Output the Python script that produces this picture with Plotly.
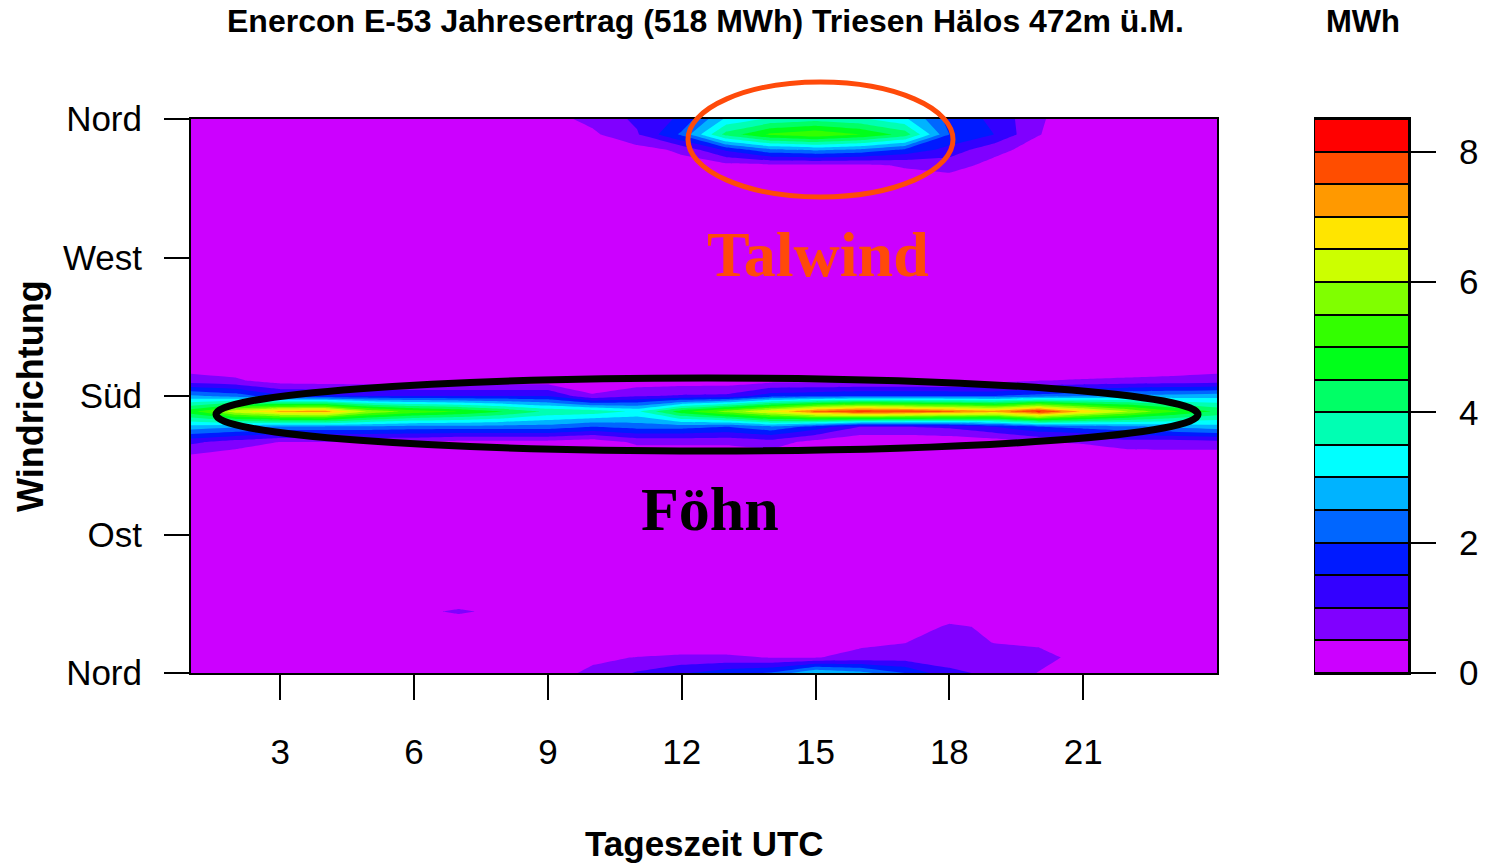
import plotly.graph_objects as go

# Hour of day (UTC) and wind direction grid (degrees, 0 = 360 = north)
hours = list(range(1, 25))
directions = list(range(0, 361, 10))

# Mean energy yield per hour / direction bin in MWh, one row per direction
energy_mwh = [
    [0.2, 0.2, 0.15, 0.15, 0.15, 0.15, 0.2, 0.2, 0.3, 0.6, 1.05, 1.45, 1.8, 2.05, 3.05, 2.7, 2.0, 1.1, 0.9, 0.48, 0.3, 0.2, 0.2, 0.2],      # 0
    [0.1, 0.1, 0.1, 0.1, 0.1, 0.1, 0.15, 0.2, 0.3, 0.4, 0.52, 0.6, 0.6, 0.48, 0.48, 0.65, 0.75, 0.8, 0.8, 0.7, 0.3, 0.2, 0.15, 0.1],       # 10
    [0.1, 0.1, 0.1, 0.1, 0.1, 0.1, 0.1, 0.15, 0.15, 0.15, 0.1, 0.1, 0.1, 0.15, 0.2, 0.4, 0.48, 0.8, 0.48, 0.4, 0.2, 0.15, 0.1, 0.1],       # 20
    [0.1, 0.1, 0.1, 0.1, 0.1, 0.15, 0.2, 0.2, 0.1, 0.1, 0.1, 0.1, 0.1, 0.1, 0.1, 0.15, 0.3, 0.55, 0.45, 0.3, 0.15, 0.1, 0.1, 0.1],        # 30
    [0.1, 0.1, 0.1, 0.1, 0.15, 0.4, 0.56, 0.4, 0.15, 0.1, 0.1, 0.1, 0.1, 0.1, 0.1, 0.1, 0.15, 0.3, 0.2, 0.1, 0.1, 0.1, 0.1, 0.1],         # 40
    [0.1, 0.1, 0.1, 0.1, 0.1, 0.15, 0.2, 0.15, 0.1, 0.1, 0.1, 0.1, 0.1, 0.1, 0.1, 0.1, 0.1, 0.15, 0.1, 0.1, 0.1, 0.1, 0.1, 0.1],          # 50
    [0.1, 0.1, 0.1, 0.1, 0.1, 0.1, 0.1, 0.1, 0.1, 0.1, 0.1, 0.1, 0.1, 0.1, 0.1, 0.1, 0.1, 0.1, 0.1, 0.1, 0.1, 0.1, 0.1, 0.1],             # 60
    [0.1, 0.1, 0.1, 0.1, 0.1, 0.1, 0.1, 0.1, 0.1, 0.1, 0.1, 0.1, 0.1, 0.1, 0.1, 0.1, 0.1, 0.1, 0.1, 0.1, 0.1, 0.1, 0.1, 0.1],             # 70
    [0.1, 0.1, 0.1, 0.1, 0.1, 0.1, 0.1, 0.1, 0.1, 0.1, 0.1, 0.1, 0.1, 0.1, 0.1, 0.1, 0.1, 0.1, 0.1, 0.1, 0.1, 0.1, 0.1, 0.1],             # 80
    [0.1, 0.1, 0.1, 0.1, 0.1, 0.1, 0.1, 0.1, 0.1, 0.1, 0.1, 0.1, 0.1, 0.1, 0.1, 0.1, 0.1, 0.1, 0.1, 0.1, 0.1, 0.1, 0.1, 0.1],             # 90
    [0.1, 0.1, 0.1, 0.1, 0.1, 0.1, 0.1, 0.1, 0.1, 0.1, 0.1, 0.1, 0.1, 0.1, 0.1, 0.1, 0.1, 0.1, 0.1, 0.1, 0.1, 0.1, 0.1, 0.1],             # 100
    [0.1, 0.1, 0.1, 0.1, 0.1, 0.1, 0.1, 0.1, 0.1, 0.1, 0.1, 0.1, 0.1, 0.1, 0.1, 0.1, 0.1, 0.1, 0.1, 0.1, 0.1, 0.1, 0.1, 0.1],             # 110
    [0.1, 0.1, 0.1, 0.1, 0.1, 0.1, 0.1, 0.1, 0.1, 0.1, 0.1, 0.1, 0.1, 0.1, 0.1, 0.1, 0.1, 0.1, 0.1, 0.1, 0.1, 0.1, 0.1, 0.1],             # 120
    [0.15, 0.1, 0.1, 0.1, 0.1, 0.1, 0.1, 0.1, 0.1, 0.1, 0.1, 0.1, 0.1, 0.1, 0.1, 0.05, 0.05, 0.05, 0.1, 0.1, 0.1, 0.1, 0.15, 0.15],       # 130
    [0.35, 0.2, 0.15, 0.15, 0.15, 0.15, 0.1, 0.1, 0.1, 0.1, 0.1, 0.1, 0.1, 0.2, 0.1, 0.0, 0.0, 0.05, 0.1, 0.15, 0.1, 0.2, 0.3, 0.2],       # 140
    [1.1, 0.75, 0.48, 0.48, 0.48, 0.48, 0.3, 0.3, 0.3, 0.15, 0.6, 0.6, 0.6, 0.75, 0.3, 0.05, 0.05, 0.1, 0.2, 0.48, 0.55, 0.75, 0.7, 0.8],  # 150
    [2.8, 2.6, 2.4, 2.4, 2.4, 2.3, 2.3, 2.3, 2.3, 2.0, 2.2, 2.2, 2.0, 2.4, 1.8, 1.0, 1.0, 1.1, 1.5, 2.0, 2.2, 2.4, 2.6, 2.8],             # 160
    [4.8, 6.3, 7.1, 7.2, 5.9, 5.3, 5.0, 4.5, 3.9, 3.8, 3.4, 4.8, 5.7, 6.6, 7.6, 8.1, 7.9, 7.6, 7.2, 8.1, 6.9, 6.0, 5.1, 4.4],             # 170
    [2.6, 2.3, 1.6, 1.6, 1.5, 1.5, 1.5, 1.5, 1.5, 0.57, 0.96, 1.06, 1.1, 1.8, 1.9, 2.0, 2.0, 2.0, 2.0, 2.2, 2.4, 2.6, 2.7, 2.8],          # 180
    [0.7, 0.575, 0.25, 0.2, 0.2, 0.2, 0.2, 0.2, 0.2, 0.1, 0.15, 0.2, 0.2, 0.3, 0.3, 0.35, 0.35, 0.3, 0.3, 0.49, 0.533, 0.575, 0.63, 0.7],  # 190
    [0.25, 0.2, 0.1, 0.1, 0.1, 0.1, 0.1, 0.1, 0.1, 0.05, 0.1, 0.1, 0.1, 0.1, 0.1, 0.1, 0.1, 0.1, 0.1, 0.2, 0.2, 0.2, 0.2, 0.25],          # 200
    [0.1, 0.1, 0.1, 0.1, 0.1, 0.1, 0.1, 0.1, 0.1, 0.1, 0.1, 0.1, 0.1, 0.1, 0.1, 0.1, 0.1, 0.1, 0.1, 0.1, 0.1, 0.1, 0.1, 0.1],             # 210
    [0.1, 0.1, 0.1, 0.1, 0.1, 0.1, 0.1, 0.1, 0.1, 0.1, 0.1, 0.1, 0.1, 0.1, 0.1, 0.1, 0.1, 0.1, 0.1, 0.1, 0.1, 0.1, 0.1, 0.1],             # 220
    [0.1, 0.1, 0.1, 0.1, 0.1, 0.1, 0.1, 0.1, 0.1, 0.1, 0.1, 0.1, 0.1, 0.1, 0.1, 0.1, 0.1, 0.1, 0.1, 0.1, 0.1, 0.1, 0.1, 0.1],             # 230
    [0.1, 0.1, 0.1, 0.1, 0.1, 0.1, 0.1, 0.1, 0.1, 0.1, 0.1, 0.1, 0.1, 0.1, 0.1, 0.1, 0.1, 0.1, 0.1, 0.1, 0.1, 0.1, 0.1, 0.1],             # 240
    [0.1, 0.1, 0.1, 0.1, 0.1, 0.1, 0.1, 0.1, 0.1, 0.1, 0.1, 0.1, 0.1, 0.1, 0.1, 0.1, 0.1, 0.1, 0.1, 0.1, 0.1, 0.1, 0.1, 0.1],             # 250
    [0.1, 0.1, 0.1, 0.1, 0.1, 0.1, 0.1, 0.1, 0.1, 0.1, 0.1, 0.1, 0.1, 0.1, 0.1, 0.1, 0.1, 0.1, 0.1, 0.1, 0.1, 0.1, 0.1, 0.1],             # 260
    [0.1, 0.1, 0.1, 0.1, 0.1, 0.1, 0.1, 0.1, 0.1, 0.1, 0.1, 0.1, 0.1, 0.1, 0.1, 0.1, 0.1, 0.1, 0.1, 0.1, 0.1, 0.1, 0.1, 0.1],             # 270
    [0.1, 0.1, 0.1, 0.1, 0.1, 0.1, 0.1, 0.1, 0.1, 0.1, 0.1, 0.1, 0.1, 0.1, 0.1, 0.1, 0.1, 0.1, 0.1, 0.1, 0.1, 0.1, 0.1, 0.1],             # 280
    [0.1, 0.1, 0.1, 0.1, 0.1, 0.1, 0.1, 0.1, 0.1, 0.1, 0.1, 0.1, 0.1, 0.1, 0.1, 0.1, 0.1, 0.1, 0.1, 0.1, 0.1, 0.1, 0.1, 0.1],             # 290
    [0.1, 0.1, 0.1, 0.1, 0.1, 0.1, 0.1, 0.1, 0.1, 0.1, 0.1, 0.1, 0.1, 0.1, 0.1, 0.1, 0.1, 0.1, 0.1, 0.1, 0.1, 0.1, 0.1, 0.1],             # 300
    [0.1, 0.1, 0.1, 0.1, 0.1, 0.1, 0.1, 0.1, 0.1, 0.1, 0.1, 0.1, 0.1, 0.1, 0.1, 0.1, 0.15, 0.15, 0.15, 0.1, 0.1, 0.1, 0.1, 0.1],          # 310
    [0.1, 0.1, 0.1, 0.1, 0.1, 0.1, 0.1, 0.1, 0.1, 0.1, 0.1, 0.15, 0.2, 0.2, 0.2, 0.2, 0.3, 0.3, 0.25, 0.15, 0.1, 0.1, 0.1, 0.1],           # 320
    [0.1, 0.1, 0.1, 0.1, 0.1, 0.1, 0.1, 0.1, 0.1, 0.15, 0.25, 0.3, 0.35, 0.4, 0.4, 0.4, 0.55, 0.7, 0.35, 0.2, 0.1, 0.1, 0.1, 0.1],         # 330
    [0.1, 0.1, 0.1, 0.1, 0.1, 0.1, 0.1, 0.1, 0.15, 0.3, 0.3, 0.6, 1.6, 2.4, 2.6, 2.4, 1.9, 1.3, 0.65, 0.3, 0.15, 0.1, 0.1, 0.1],          # 340
    [0.1, 0.1, 0.1, 0.1, 0.1, 0.1, 0.1, 0.15, 0.3, 0.4, 0.95, 2.1, 4.2, 5.1, 5.4, 5.0, 4.3, 2.0, 1.5, 0.52, 0.2, 0.1, 0.1, 0.1],          # 350
    [0.1, 0.1, 0.1, 0.1, 0.1, 0.1, 0.1, 0.15, 0.3, 0.65, 1.1, 1.6, 3.1, 3.6, 3.8, 3.6, 3.1, 1.8, 1.4, 0.55, 0.25, 0.1, 0.1, 0.1],         # 360
]

hour_ticks = [3, 6, 9, 12, 15, 18, 21]
dir_ticks = [0, 90, 180, 270, 360]
dir_labels = ["Nord", "Ost", "Süd", "West", "Nord"]

# Class boundaries of the colour key (MWh) and one colour per class
key_levels = [0, 0.5, 1, 1.5, 2, 2.5, 3, 3.5, 4, 4.5, 5, 5.5, 6, 6.5, 7, 7.5, 8, 8.5]
key_ticks = [0, 2, 4, 6, 8]
level_colors = [
    "#CC00FF", "#8000FF", "#3300FF", "#001AFF", "#0066FF", "#00B3FF",
    "#00FFFF", "#00FFB3", "#00FF66", "#00FF1A", "#33FF00", "#80FF00",
    "#CCFF00", "#FFE500", "#FF9900", "#FF4D00", "#FF0000",
]

W, H = 1490, 867
FONT = "Liberation Sans, Arial, Helvetica, sans-serif"
SERIF = "Liberation Serif, Times New Roman, serif"


def px_x(px):
    return px / W


def px_y(py):
    return 1 - py / H


# stepped colour scale: one flat colour per class
n_cls = len(level_colors)
colorscale = []
for k, c in enumerate(level_colors):
    colorscale.append([k / n_cls, c])
    colorscale.append([(k + 1) / n_cls, c])

step = key_levels[1] - key_levels[0]

fig = go.Figure()

fig.add_trace(go.Contour(
    x=hours, y=directions, z=energy_mwh,
    colorscale=colorscale, showscale=False, autocontour=False,
    contours=dict(start=key_levels[1], end=key_levels[-2], size=step,
                  coloring="fill", showlines=False),
    line=dict(width=0, smoothing=0),
    hoverinfo="skip",
))

# colour key drawn as stacked boxes on its own axis
fig.add_trace(go.Bar(
    x=[0] * n_cls,
    y=[key_levels[i + 1] - key_levels[i] for i in range(n_cls)],
    base=key_levels[:-1],
    width=1,
    marker=dict(color=level_colors, line=dict(color="black", width=2)),
    xaxis="x2", yaxis="y2", showlegend=False, hoverinfo="skip",
))

y_dom = [px_y(673), px_y(119)]
axis_common = dict(
    ticks="outside", ticklen=25, tickwidth=2, tickcolor="black",
    showline=True, linecolor="black", linewidth=2,
    showgrid=False, zeroline=False, automargin=False,
    tickfont=dict(family=FONT, size=35, color="black"),
)

fig.update_layout(
    template="none",
    width=W, height=H,
    margin=dict(l=0, r=0, t=0, b=0, pad=0, autoexpand=False),
    paper_bgcolor="white", plot_bgcolor="white",
    font=dict(family=FONT, color="black"),
    showlegend=False,
    bargap=0,
    xaxis=dict(domain=[px_x(191), px_x(1217)], range=[1, 24],
               tickvals=hour_ticks, mirror=True, ticklabelstandoff=22,
               **axis_common),
    yaxis=dict(domain=y_dom, range=[0, 360], tickvals=dir_ticks,
               ticktext=dir_labels, mirror=True, ticklabelstandoff=15,
               **axis_common),
    xaxis2=dict(domain=[px_x(1314), px_x(1409)], range=[-0.5, 0.5],
                anchor="y2", showticklabels=False, ticks="",
                showline=True, mirror=True, linecolor="black", linewidth=2,
                showgrid=False, zeroline=False, automargin=False),
    yaxis2=dict(domain=y_dom, anchor="x2", side="right", range=[0, 8.5],
                tickvals=key_ticks, ticklabelstandoff=16, **axis_common),
)

annotations = [
    dict(text="<b>Enercon E-53 Jahresertrag (518 MWh) Triesen Hälos 472m ü.M.</b>",
         x=px_x(705), y=px_y(21), font=dict(family=FONT, size=32)),
    dict(text="<b>MWh</b>", x=px_x(1363), y=px_y(21), font=dict(family=FONT, size=31)),
    dict(text="<b>Windrichtung</b>", x=px_x(30), y=px_y(396), textangle=-90,
         font=dict(family=FONT, size=36)),
    dict(text="<b>Tageszeit UTC</b>", x=px_x(704), y=px_y(843),
         font=dict(family=FONT, size=35)),
    dict(text="<b>Talwind</b>", x=px_x(818), y=px_y(254),
         font=dict(family=SERIF, size=64, color="#FF4A0A")),
    dict(text="<b>Föhn</b>", x=px_x(710), y=px_y(509),
         font=dict(family=SERIF, size=62, color="black")),
]
for a in annotations:
    a.update(xref="paper", yref="paper", showarrow=False,
             xanchor="center", yanchor="middle")
fig.update_layout(annotations=annotations)

# highlighted regimes
fig.add_shape(type="circle", xref="paper", yref="paper",
              x0=px_x(688), x1=px_x(953), y0=px_y(197), y1=px_y(82),
              line=dict(color="#FF4A0A", width=5))
fig.add_shape(type="circle", xref="paper", yref="paper",
              x0=px_x(216), x1=px_x(1198), y0=px_y(451), y1=px_y(378),
              line=dict(color="black", width=7))

fig.write_html("out.html")
